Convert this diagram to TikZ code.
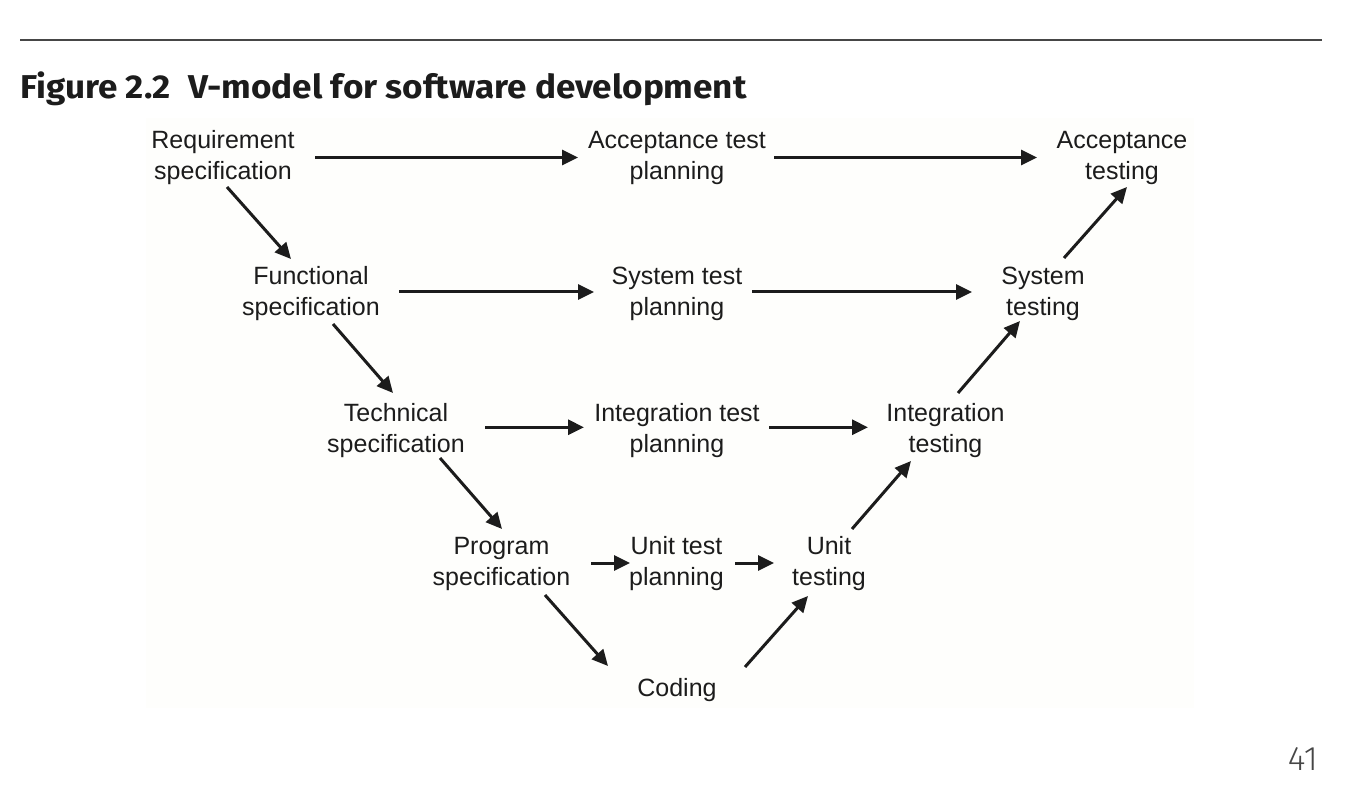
\documentclass[tikz,border=0pt]{standalone}
\usepackage{fontspec}
\setmainfont{Liberation Sans}
\newfontfamily\titlefont{Fira Sans}
\newfontfamily\numfont{Fira Sans Light}
\usetikzlibrary{arrows.meta}
\definecolor{ink}{RGB}{28,28,28}
\definecolor{bgpanel}{RGB}{254,254,252}
\definecolor{rulec}{RGB}{70,70,70}
\begin{document}
\begin{tikzpicture}[x=1pt,y=-1pt,
  lbl/.style={font=\fontsize{25}{31}\selectfont, align=center, inner sep=0pt, text=ink},
  arr/.style={draw=ink, line width=3pt, -{Triangle[length=16pt,width=15pt]}}]
\useasboundingbox (0,0) rectangle (1366,786);
\fill[bgpanel] (146,118) rectangle (1194,708);
\draw[rulec, line width=2pt] (20,40) -- (1322,40);
\node[anchor=base west, font=\titlefont\bfseries\fontsize{33}{36}\selectfont, text=ink, inner sep=0pt] (title) at (20,99) {\scalebox{1.063}[1]{Figure 2.2\hspace{0.5em}V-model for software development}};
\node[anchor=base east, font=\numfont\fontsize{34}{36}\selectfont, text=rulec, inner sep=0pt] (pg) at (1318,770) {41};

\node[lbl] (req)  at (223,157.5) {Requirement\\specification};
\node[lbl] (atp)  at (677,157.5) {Acceptance test\\planning};
\node[lbl] (acct) at (1122,157.5) {Acceptance\\testing};
\node[lbl] (fs)   at (311,293.5) {Functional\\specification};
\node[lbl] (stp)  at (677,293.5) {System test\\planning};
\node[lbl] (st)   at (1043,293.5) {System\\testing};
\node[lbl] (tsp)  at (396,431) {Technical\\specification};
\node[lbl] (itp)  at (677,431) {Integration test\\planning};
\node[lbl] (it)   at (945.5,431) {Integration\\testing};
\node[lbl] (ps)   at (501.5,564) {Program\\specification};
\node[lbl] (utp)  at (676.5,564) {Unit test\\planning};
\node[lbl] (ut)   at (829,564) {Unit\\testing};
\node[lbl] (cod)  at (677,690) {Coding};

\draw[arr] ([shift={(92,0)}]req.center) -- ([shift={(-99,0)}]atp.center);
\draw[arr] ([shift={(97,0)}]atp.center) -- ([shift={(-85,0)}]acct.center);
\draw[arr] ([shift={(4,29.5)}]req.center) -- ([shift={(-20,-34.5)}]fs.center);
\draw[arr] ([shift={(88,-1.5)}]fs.center) -- ([shift={(-83,-1.5)}]stp.center);
\draw[arr] ([shift={(75,-1.5)}]stp.center) -- ([shift={(-71,-1.5)}]st.center);
\draw[arr] ([shift={(22,30.5)}]fs.center) -- ([shift={(-3,-38)}]tsp.center);
\draw[arr] ([shift={(89,-3.7)}]tsp.center) -- ([shift={(-93,-3.7)}]itp.center);
\draw[arr] ([shift={(92,-3.7)}]itp.center) -- ([shift={(-77.5,-3.7)}]it.center);
\draw[arr] ([shift={(44,27)}]tsp.center) -- ([shift={(0.5,-35)}]ps.center);
\draw[arr] ([shift={(89.5,-1)}]ps.center) -- ([shift={(-46.5,-1)}]utp.center);
\draw[arr] ([shift={(58.5,-1)}]utp.center) -- ([shift={(-55,-1)}]ut.center);
\draw[arr] ([shift={(43.5,31)}]ps.center) -- ([shift={(-69,-24)}]cod.center);
\draw[arr] ([shift={(68,-23)}]cod.center) -- ([shift={(-21,32)}]ut.center);
\draw[arr] ([shift={(23,-35)}]ut.center) -- ([shift={(-34.5,30)}]it.center);
\draw[arr] ([shift={(12.5,-38)}]it.center) -- ([shift={(-23,27.5)}]st.center);
\draw[arr] ([shift={(21,-35.5)}]st.center) -- ([shift={(5,29.5)}]acct.center);
\end{tikzpicture}
\end{document}
